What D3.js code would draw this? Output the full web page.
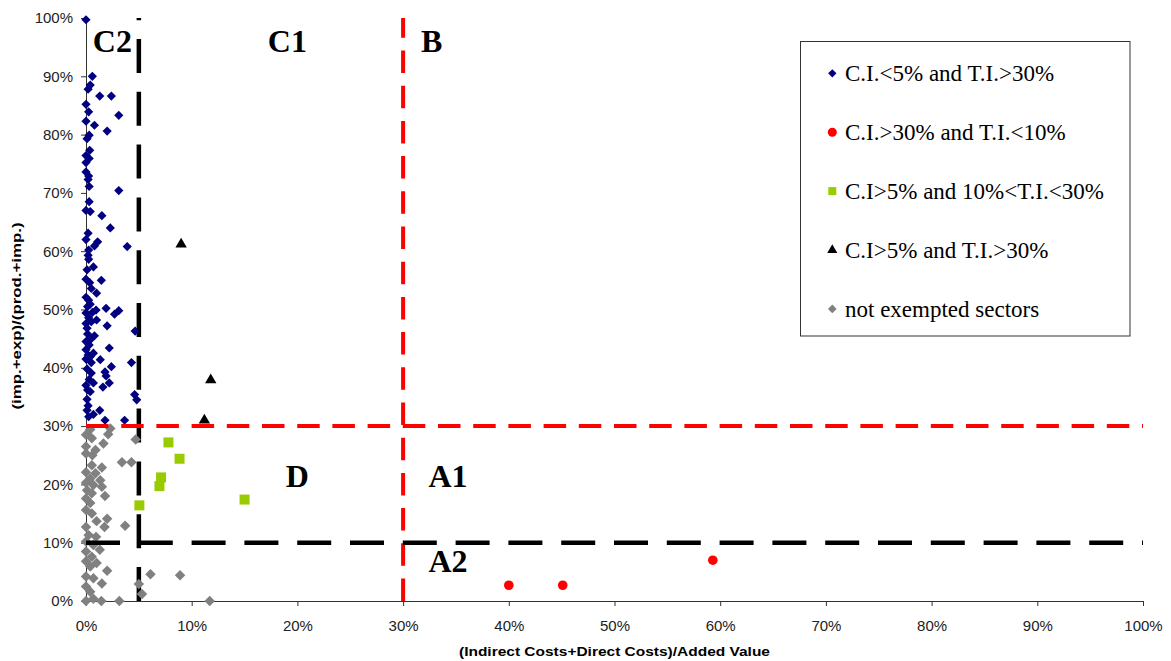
<!DOCTYPE html>
<html>
<head>
<meta charset="utf-8">
<script src="https://cdn.jsdelivr.net/npm/d3@7"></script>
<style>
  body { margin: 0; background: #fff; }
</style>
</head>
<body>
<div id="d3-container"></div>
<script>
// set up
const width = 1171;
const height = 661;
const plot = { left: 86, right: 1143, top: 18, bottom: 601 };

// data (values in percent: [cost intensity, trade intensity])
const blueSectors = [
  [0,99.7],[0.6,90],[0.4,88.5],[0.2,87.8],[1.3,86.6],[2.4,86.6],[0,85.2],[0.25,83.9],[3.1,83.3],[0,82.3],
  [0.8,81.6],[2.0,80.6],[0.3,79.9],[0.1,79.3],[0.35,77.3],[0,76.4],[0.3,75.9],[0,75.2],[0,73.6],[0.25,72.9],
  [0.2,72.3],[0.3,71.1],[3.1,70.4],[0.3,68.5],[0,67],[0.4,66.8],[1.5,66.1],[2.3,64.0],[0.2,63.1],[0,62.0],
  [1.1,61.6],[0.8,60.9],[3.9,60.8],[0.25,60.2],[0.2,59.3],[0.25,58.6],[0.7,57.3],[0.1,56.8],[1.45,55.0],[0,55.2],
  [0.35,54.6],[0.5,53.6],[1.0,52.8],[0,52.1],[0.25,51.6],[1.9,50.2],[0.95,49.9],[3.1,49.8],[2.7,49.2],[0,49.4],
  [0.25,48.6],[1.0,48.2],[0,47.6],[2.0,47.2],[0.1,46.8],[4.65,46.3],[0.8,45.5],[0,44.5],[0.3,43.9],[2.2,43.4],
  [0,43.1],[0.7,42.5],[0,41.5],[1.35,41.4],[0.5,40.9],[4.3,40.9],[2.4,40.2],[0.5,39.1],[1.8,39.3],[1.9,38.6],
  [2.2,37.4],[1.6,36.7],[0,37.0],[0.7,37.4],[4.6,35.4],[4.8,34.5],[0.1,34.6],[0.1,32.7],[1.3,32.7],[0.7,32.0],
  [0.25,31.6],[3.65,31.0],[1.8,31.0],[0.15,50.5],[0.4,50.9],[0.6,49.5],[0.5,47.9],[0.15,45.8],[0.45,44.9],
  [0.2,42.2],[0.4,41.9],[0.1,39.8],[0.3,38.0],[0.15,36.2],[0.4,35.9],[0.2,33.5]
];
const redSectors = [[40.0,2.7],[45.1,2.7],[59.3,7.0]];
const greenSectors = [[7.8,27.2],[8.85,24.4],[7.1,21.2],[6.95,19.7],[5.05,16.4],[15.0,17.4]];
const blackSectors = [[9.0,61.2],[11.8,37.9],[11.2,31.0]];
const greySectors = [
  [0.4,29.4],[2.3,29.6],[2.1,28.6],[0,28.5],[4.7,27.7],[0.55,27.9],[1.65,27.0],[0,26.5],[0.9,25.9],[0,25.3],
  [0.6,25.0],[3.4,23.8],[4.3,23.8],[0.55,23.3],[1.5,22.9],[0,22.1],[0.9,21.9],[0.4,21.0],[1.35,20.7],[0,20.3],
  [0.7,19.9],[1.5,19.6],[0.1,19.0],[0.55,18.5],[1.8,18.0],[0,17.6],[0.4,16.8],[0,15.6],[0.55,15.0],[1.0,13.7],
  [2.0,14.1],[1.75,12.7],[3.7,12.9],[0,12.7],[0.25,11.3],[0.95,11.0],[0,10.2],[0.7,9.6],[1.3,8.8],[0,8.5],
  [0.55,7.6],[0,6.8],[1.0,6.5],[0.4,5.9],[2.0,5.2],[0,4.2],[6.1,4.6],[8.9,4.4],[0.7,3.9],[1.5,3.0],
  [5.0,2.9],[0,2.5],[5.3,1.2],[0.4,1.6],[0,0],[1.45,0],[3.15,0],[11.7,0],[0.7,0.4]
];

const xTicks = [0,10,20,30,40,50,60,70,80,90,100];
const yTicks = [0,10,20,30,40,50,60,70,80,90,100];

// threshold lines: [value, colour]
const vLines = [[5,'#000'],[30,'#ff0000']];
const hLines = [[10,'#000'],[30,'#ff0000']];

const regions = [
  { label: 'C2', x: 0.65, y: 94.2 },
  { label: 'C1', x: 17.2, y: 94.2 },
  { label: 'B', x: 31.7, y: 94.2 },
  { label: 'D', x: 18.9, y: 19.6 },
  { label: 'A1', x: 32.4, y: 19.6 },
  { label: 'A2', x: 32.4, y: 4.9 }
];

const legendLabels = [
  'C.I.<5% and T.I.>30%',
  'C.I.>30% and T.I.<10%',
  'C.I>5% and 10%<T.I.<30%',
  'C.I>5% and T.I.>30%',
  'not exempted sectors'
];

// scales
const x = d3.scaleLinear().domain([0, 100]).range([plot.left, plot.right]);
const y = d3.scaleLinear().domain([0, 100]).range([plot.bottom, plot.top]);

const svg = d3.select('#d3-container')
  .append('svg')
  .attr('width', width)
  .attr('height', height)
  .style('background', '#fff');

// axes
const xAxis = d3.axisBottom(x).tickValues(xTicks).tickSize(5).tickSizeOuter(0).tickFormat(d => d + '%');
const yAxis = d3.axisLeft(y).tickValues(yTicks).tickSize(5).tickSizeOuter(0).tickFormat(d => d + '%');

svg.append('g')
  .attr('transform', `translate(0,${plot.bottom})`)
  .call(xAxis)
  .call(g => g.selectAll('path,line').attr('stroke', '#333'))
  .call(g => g.selectAll('text').attr('fill', '#222').attr('dy', '1.45em'))
  .attr('font-family', 'Arial, "Liberation Sans", sans-serif')
  .attr('font-size', '15px');

svg.append('g')
  .attr('transform', `translate(${plot.left},0)`)
  .call(yAxis)
  .call(g => g.selectAll('path,line').attr('stroke', '#333'))
  .call(g => g.selectAll('text').attr('fill', '#222').attr('x', -13))
  .attr('font-family', 'Arial, "Liberation Sans", sans-serif')
  .attr('font-size', '15px');

// axis titles
svg.append('text')
  .attr('x', 614.5).attr('y', 656)
  .attr('text-anchor', 'middle')
  .attr('font-family', 'Arial, "Liberation Sans", sans-serif')
  .attr('font-weight', 'bold').attr('font-size', '13px')
  .attr('textLength', 311).attr('lengthAdjust', 'spacingAndGlyphs')
  .text('(Indirect Costs+Direct Costs)/Added Value');

svg.append('text')
  .attr('transform', 'translate(21,316) rotate(-90)')
  .attr('text-anchor', 'middle')
  .attr('font-family', 'Arial, "Liberation Sans", sans-serif')
  .attr('font-weight', 'bold').attr('font-size', '13px')
  .attr('textLength', 187).attr('lengthAdjust', 'spacingAndGlyphs')
  .text('(imp.+exp)/(prod.+imp.)');

// vertical threshold lines (drawn from the bottom up)
svg.append('g')
  .selectAll('line')
  .data(vLines)
  .join('line')
    .attr('x1', d => x(d[0])).attr('x2', d => x(d[0]))
    .attr('y1', y(0)).attr('y2', y(100))
    .attr('stroke', d => d[1])
    .attr('stroke-width', d => d[1] === '#000' ? 4.5 : 4)
    .attr('stroke-dasharray', d => d[1] === '#000' ? '34,18.8' : '22.5,12.7');

// markers
const diamond = d3.symbol().type(d3.symbolDiamond2);
const marks = svg.append('g');

marks.selectAll('.grey')
  .data(greySectors)
  .join('path')
    .attr('class', 'grey')
    .attr('transform', d => `translate(${x(d[0])},${y(d[1])})`)
    .attr('d', diamond.size(70)())
    .attr('fill', '#808080');

marks.selectAll('.blue')
  .data(blueSectors)
  .join('path')
    .attr('class', 'blue')
    .attr('transform', d => `translate(${x(d[0])},${y(d[1])})`)
    .attr('d', diamond.size(54)())
    .attr('fill', '#000080');

marks.selectAll('.red')
  .data(redSectors)
  .join('circle')
    .attr('class', 'red')
    .attr('cx', d => x(d[0])).attr('cy', d => y(d[1]))
    .attr('r', 4.8)
    .attr('fill', '#ff0000');

marks.selectAll('.green')
  .data(greenSectors)
  .join('rect')
    .attr('class', 'green')
    .attr('x', d => x(d[0]) - 5).attr('y', d => y(d[1]) - 5)
    .attr('width', 10).attr('height', 10)
    .attr('fill', '#99cc00');

marks.selectAll('.black')
  .data(blackSectors)
  .join('path')
    .attr('class', 'black')
    .attr('transform', d => `translate(${x(d[0])},${y(d[1])})`)
    .attr('d', d3.symbol().type(d3.symbolTriangle).size(56)())
    .attr('fill', '#000');

// horizontal threshold lines (drawn left to right)
svg.append('g')
  .selectAll('line')
  .data(hLines)
  .join('line')
    .attr('x1', x(0)).attr('x2', x(100))
    .attr('y1', d => y(d[0])).attr('y2', d => y(d[0]))
    .attr('stroke', d => d[1])
    .attr('stroke-width', d => d[1] === '#000' ? 4.5 : 4)
    .attr('stroke-dasharray', d => d[1] === '#000' ? '34,18.8' : '22.5,12.7');

// region letters
svg.append('g')
  .selectAll('text')
  .data(regions)
  .join('text')
    .attr('x', d => x(d.x)).attr('y', d => y(d.y))
    .attr('font-family', '"Times New Roman", "Liberation Serif", serif')
    .attr('font-weight', 'bold')
    .attr('font-size', '32px')
    .attr('fill', '#000')
    .text(d => d.label);

// legend
const legend = svg.append('g');
legend.append('rect')
  .attr('x', 800.5).attr('y', 41.5)
  .attr('width', 329.5).attr('height', 294.5)
  .attr('fill', '#fff').attr('stroke', '#333').attr('stroke-width', 1);

const rowY = i => 73.3 + i * 58.9;
const lx = 832.3;

legend.append('path')
  .attr('transform', `translate(${lx},${rowY(0)})`)
  .attr('d', diamond.size(44)()).attr('fill', '#000080');
legend.append('circle')
  .attr('cx', lx).attr('cy', rowY(1)).attr('r', 4.5).attr('fill', '#ff0000');
legend.append('rect')
  .attr('x', lx - 4).attr('y', rowY(2) - 4).attr('width', 8).attr('height', 8).attr('fill', '#99cc00');
legend.append('path')
  .attr('transform', `translate(${lx},${rowY(3)})`)
  .attr('d', d3.symbol().type(d3.symbolTriangle).size(44)()).attr('fill', '#000');
legend.append('path')
  .attr('transform', `translate(${lx},${rowY(4)})`)
  .attr('d', diamond.size(48)()).attr('fill', '#808080');

legend.selectAll('.lab')
  .data(legendLabels)
  .join('text')
    .attr('class', 'lab')
    .attr('x', 845).attr('y', (d, i) => rowY(i) + 7.6)
    .attr('font-family', '"Times New Roman", "Liberation Serif", serif')
    .attr('font-size', '23px')
    .attr('fill', '#000')
    .text(d => d);
</script>
</body>
</html>
